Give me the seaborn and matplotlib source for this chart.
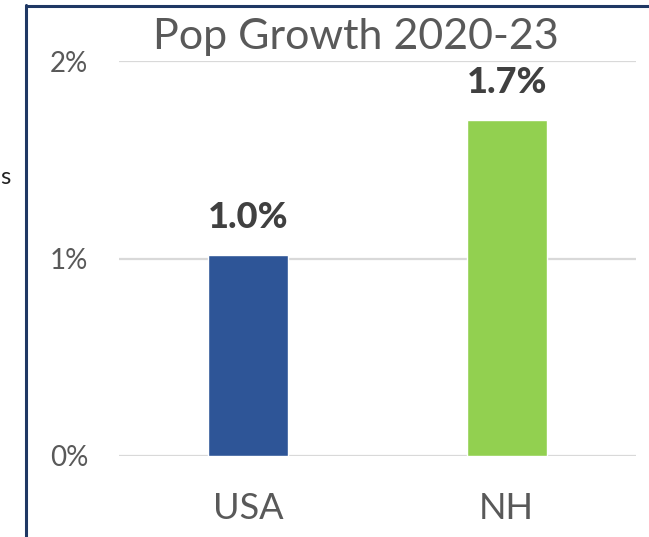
import numpy as np
import matplotlib
matplotlib.use("Agg")
import matplotlib.pyplot as plt
import seaborn as sns
from matplotlib.lines import Line2D
from matplotlib.ticker import FuncFormatter

# data
regions = ["USA", "NH"]
growth_pct = [1.02, 1.70]
label_text = ["1.0%", "1.7%"]
bar_colors = ["#2E5597", "#92D050"]
y_ticks = [0, 1, 2]

sns.set_theme(style="white")
plt.rcParams['font.family'] = ['Lato', 'DejaVu Sans']

W, H = 649, 537
fig = plt.figure(figsize=(W / 100, H / 100), dpi=100)
ax = fig.add_axes([119 / W, 81 / H, (636 - 119) / W, (476 - 81) / H])

sns.barplot(x=regions, y=growth_pct, hue=regions, palette=bar_colors,
            width=0.31, legend=False, ax=ax, saturation=1)

ax.set_ylim(0, 2)
ax.set_xlim(-0.5, 1.5)
ax.set_yticks(y_ticks)
ax.yaxis.set_major_formatter(FuncFormatter(lambda v, _: f"{v:.0f}%"))
ax.grid(axis="y", color="#d9d9d9", linewidth=1.6)
ax.set_axisbelow(True)
for s in ax.spines.values():
    s.set_visible(False)
ax.tick_params(axis="y", length=0, pad=22, labelsize=20, labelcolor="#595959")
ax.tick_params(axis="x", length=0, pad=26, labelsize=26, labelcolor="#595959")

for i, (v, t) in enumerate(zip(growth_pct, label_text)):
    ax.annotate(t, (i, v), xytext=(0, 15), textcoords="offset points",
                ha="center", va="bottom", fontsize=26, fontweight="black",
                color="#404040")

fig.text(356 / W, 1 - 37 / H, "Pop Growth 2020-23", ha="center", va="center",
         fontsize=31, color="#595959")

# frame edges of the cropped screenshot
fig.add_artist(Line2D([25.5 / W, 25.5 / W], [0, 1 - 5 / H], transform=fig.transFigure,
                      color="#1F3864", linewidth=2.2))
fig.add_artist(Line2D([25.5 / W, 1], [1 - 6 / H, 1 - 6 / H], transform=fig.transFigure,
                      color="#1F3864", linewidth=2.2))
fig.text(0.5 / W, 1 - 177 / H, "s", ha="left", va="center", fontsize=17, color="#222222")

fig.savefig("out.png", dpi=100)
